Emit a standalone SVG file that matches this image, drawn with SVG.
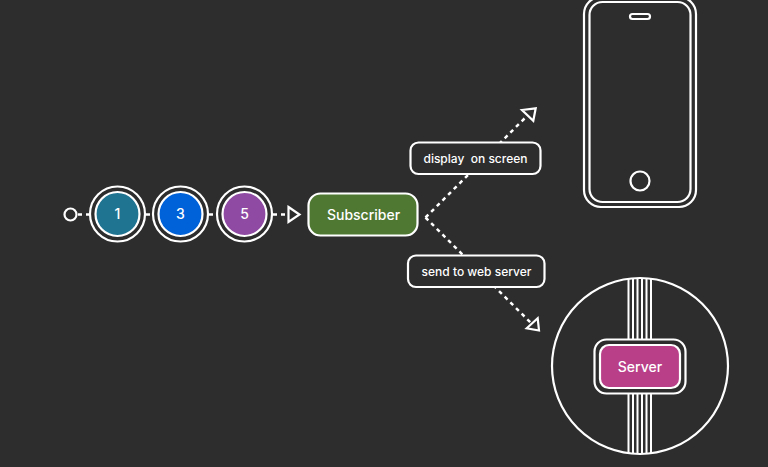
<svg xmlns="http://www.w3.org/2000/svg" width="768" height="467" viewBox="0 0 768 467">
<style>
.o{fill:none;stroke:#fff;stroke-width:2.200}
.l{fill:none;stroke:#fff;stroke-width:2}
.d{fill:none;stroke:#fff;stroke-width:2.500;stroke-dasharray:4 4}
.a{fill:#2d2d2d;stroke:#fff;stroke-width:2.200}
.t{font-family:"Inter","Noto Sans",sans-serif;font-weight:500;fill:#fff;text-anchor:middle}
.s{font-size:14px}
.m{font-size:12px}
</style>
<rect width="768" height="467" fill="#2d2d2d"/>
<g id="connectors">
<path class="d" d="M78 214.500H90"/>
<path class="d" d="M146 214.500H153"/>
<path class="d" d="M209 214.500H216"/>
<path class="d" d="M273 214.500H288"/>
<polygon class="a" points="288.500,207 299.500,214.500 288.500,222"/>
<path class="d" d="M425.500 217.500L530 113"/>
<path class="d" d="M425.500 217.500L533 325"/>
<polygon class="a" points="522,110 535.700,108.300 533.300,120.700"/>
<polygon class="a" points="526.700,328.300 537.700,318.300 539,330.500"/>
</g>
<g id="start"><circle class="o" cx="70.500" cy="214.500" r="6"/></g>
<g id="n1"><circle class="o" cx="117.500" cy="214" r="27.500"/><circle cx="117.500" cy="214" r="22" fill="#1f7492" stroke="#fff" stroke-width="2.200"/><text class="t s" x="117.500" y="219">1</text></g>
<g id="n3"><circle class="o" cx="180.500" cy="214" r="27.500"/><circle cx="180.500" cy="214" r="22" fill="#0062d9" stroke="#fff" stroke-width="2.200"/><text class="t s" x="180.500" y="219">3</text></g>
<g id="n5"><circle class="o" cx="244.500" cy="214" r="27.500"/><circle cx="244.500" cy="214" r="22" fill="#8f4aa3" stroke="#fff" stroke-width="2.200"/><text class="t s" x="244.500" y="219">5</text></g>
<g id="subscriber"><rect x="308.500" y="193.500" width="109" height="42" rx="12" fill="#4f7832" stroke="#fff" stroke-width="2.200"/><text class="t s" x="363.500" y="220">Subscriber</text></g>
<g id="display"><rect class="a" x="410.500" y="142.500" width="130" height="31.500" rx="8"/><text class="t m" x="475.500" y="163" xml:space="preserve">display  on screen</text></g>
<g id="send"><rect class="a" x="408" y="255.500" width="136.500" height="31.500" rx="8"/><text class="t m" x="476.500" y="276">send to web server</text></g>
<g id="phone"><rect class="o" x="584" y="-3" width="112" height="210" rx="17"/><rect class="o" x="589.500" y="2" width="101" height="200" rx="13"/><rect class="o" x="630" y="14" width="20" height="5" rx="2.500"/><circle class="o" cx="640" cy="181" r="9.500"/></g>
<g id="server"><circle class="o" cx="640" cy="366" r="88"/><path class="l" d="M628.500 279V340M633 279V340M637.500 279V340M642 279V340M646.500 279V340M651 279V340M628.500 393V453M633 393V453M637.500 393V453M642 393V453M646.500 393V453M651 393V453"/><rect class="a" x="594.500" y="339.500" width="91" height="54" rx="12"/><rect x="600" y="345" width="80" height="43" rx="9" fill="#b93f88" stroke="#fff" stroke-width="2.200"/><text class="t s" x="640" y="372">Server</text></g>
</svg>
